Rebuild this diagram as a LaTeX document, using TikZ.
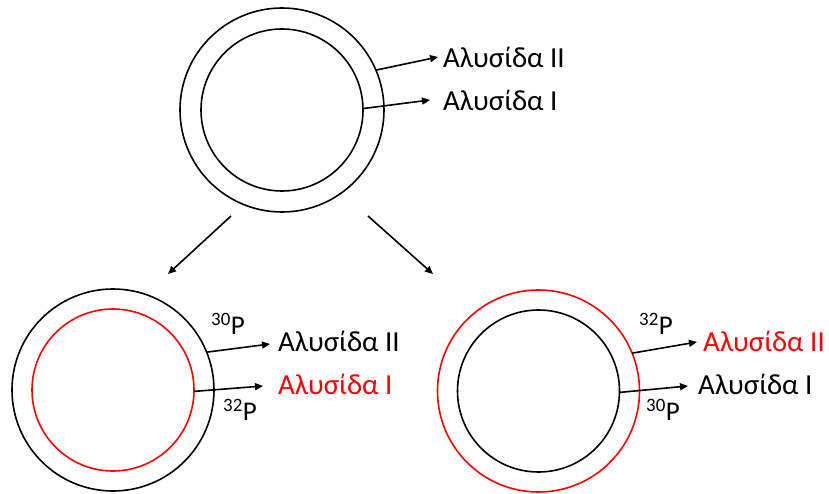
\documentclass[tikz,border=0pt]{standalone}
\usepackage{fontspec}
\setmainfont{Carlito}
\usetikzlibrary{arrows.meta}
\begin{document}
\begin{tikzpicture}[x=1pt,y=-1pt,
  ring/.style={draw,circle,inner sep=0pt,outer sep=0pt,line width=1.6pt},
  outerring/.style={ring,minimum size=204pt},
  innerring/.style={ring,minimum size=162pt},
  arr/.style={line width=1.6pt,-{Triangle[length=8pt,width=7pt]}},
  lbl/.style={anchor=west,inner sep=0pt,font=\fontsize{29}{34}\selectfont},
  iso/.style={inner sep=0pt,font=\fontsize{27}{32}\selectfont}]
\useasboundingbox (0,0) rectangle (829,494);

% parent molecule
\node[outerring] (topO) at (282,110) {};
\node[innerring] (topI) at (282,110) {};
\node[lbl] (t2) at (443,57) {Αλυσίδα II};
\node[lbl] (t1) at (443,100) {Αλυσίδα I};
\draw[arr] (topO.23) -- ([xshift=-5pt,yshift=0pt]t2.west);
\draw[arr] (topI.1) -- ([xshift=-13pt]t1.west);

% replication arrows
\coordinate (sL) at (231,216);
\coordinate (eL) at (168,274);
\coordinate (sR) at (368,216);
\coordinate (eR) at (433,274);
\draw[arr] (sL) -- (eL);
\draw[arr] (sR) -- (eR);

% left daughter molecule
\node[outerring,minimum size=202pt] (lO) at (113,390) {};
\node[innerring,draw=red] (lI) at (113,390) {};
\node[lbl] (l2) at (278,341) {Αλυσίδα II};
\node[lbl,text=red] (l1) at (278,384) {Αλυσίδα I};
\node[iso] (lp30) at (228,324) {\textsuperscript{30}P};
\node[iso] (lp32) at (240,410) {\textsuperscript{32}P};
\draw[arr] (lO.22) -- ([xshift=-8pt,yshift=-3pt]l2.west);
\draw[arr] (lI.-1) -- ([xshift=-15pt,yshift=-2pt]l1.west);

% right daughter molecule
\node[outerring,minimum size=202pt,draw=red] (rO) at (538.5,391) {};
\node[innerring] (rI) at (538.5,391) {};
\node[lbl,text=red] (r2) at (703,341) {Αλυσίδα II};
\node[lbl] (r1) at (698,384) {Αλυσίδα I};
\node[iso] (rp32) at (656,324) {\textsuperscript{32}P};
\node[iso] (rp30) at (663,410) {\textsuperscript{30}P};
\draw[arr] (rO.22) -- ([xshift=-6pt,yshift=-1pt]r2.west);
\draw[arr] (rI.-1) -- ([xshift=-10pt,yshift=-2pt]r1.west);
\end{tikzpicture}
\end{document}
